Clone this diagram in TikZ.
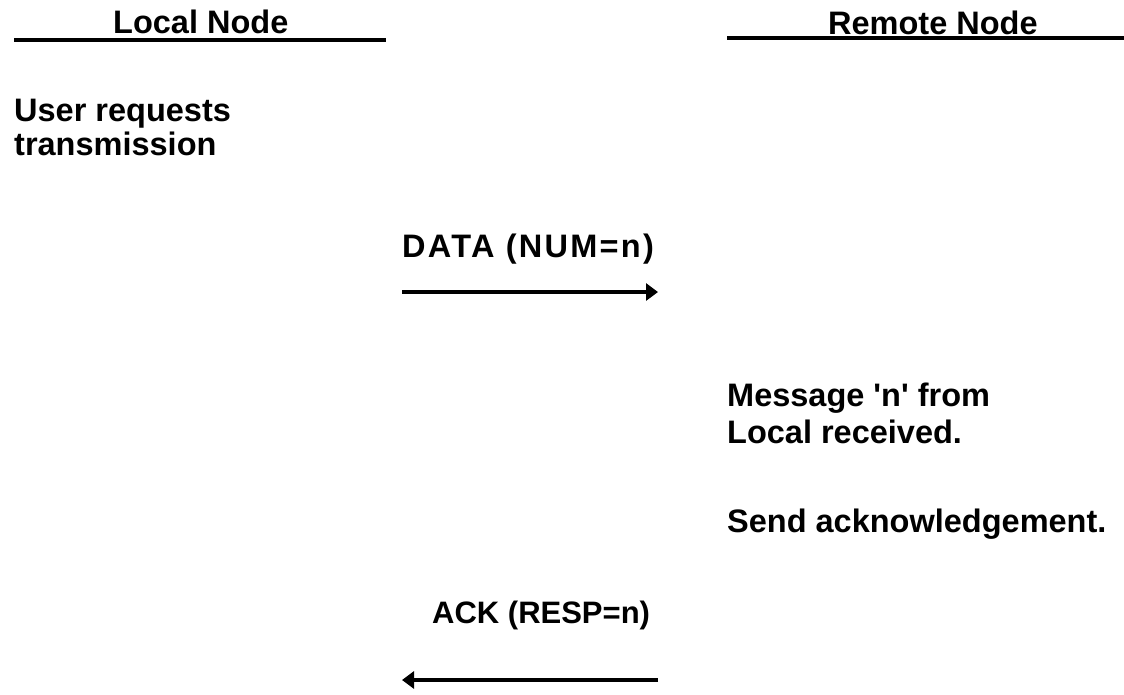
\documentclass[tikz,border=0pt]{standalone}
\usepackage{fontspec}
\setmainfont{Liberation Sans}[Ligatures=TeXOff]
\usetikzlibrary{arrows.meta}
\begin{document}
\begin{tikzpicture}[x=1pt,y=-1pt,
  lbl/.style={anchor=base west,inner sep=0pt,font=\fontsize{32.5}{34}\selectfont\bfseries},
  rule/.style={line width=3.2pt},
  msg/.style={line width=4pt,-{Triangle[length=12pt,width=17pt]}}]
\useasboundingbox (0,0) rectangle (1124,694);
% column headers
\node[lbl] (lh) at (113,33) {Local Node};
\node[lbl] (rh) at (828,34) {Remote Node};
\coordinate (lh1) at (14,40);
\coordinate (lh2) at (386,40);
\coordinate (rh1) at (727,38);
\coordinate (rh2) at (1124,38);
\draw[rule] (lh1) -- (lh2);
\draw[rule] (rh1) -- (rh2);
% local side
\node[lbl] (u1) at (14,121) {User requests};
\node[lbl] (u2) at (14,155) {transmission};
% data message
\node[lbl] (dl) at (402,257) {\addfontfeature{LetterSpace=7}DATA (NUM=n)};
\coordinate (d1) at (402,292);
\coordinate (d2) at (658,292);
\draw[msg] (d1) -- (d2);
% remote side
\node[lbl] (m1) at (727,406) {Message 'n' from};
\node[lbl] (m2) at (727,443) {Local received.};
\node[lbl] (m3) at (727,532) {Send acknowledgement.};
% acknowledgement
\node[lbl,font=\fontsize{31}{33}\selectfont\bfseries] (al) at (432,623) {ACK (RESP=n)};
\coordinate (a1) at (658,680);
\coordinate (a2) at (402,680);
\draw[msg] (a1) -- (a2);
\end{tikzpicture}
\end{document}
